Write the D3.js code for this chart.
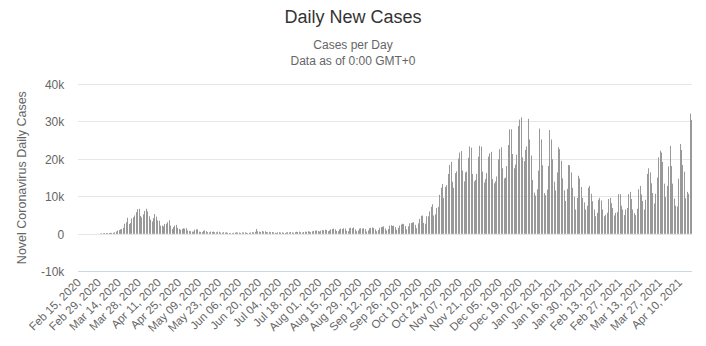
<!DOCTYPE html>
<html>
<head>
<meta charset="utf-8">
<script src="https://cdn.jsdelivr.net/npm/d3@7/dist/d3.min.js"></script>
<style>
  html, body { margin: 0; padding: 0; background: #ffffff; }
  svg { display: block; font-family: "Liberation Sans", Arial, sans-serif; }
</style>
</head>
<body>
<svg id="chart" width="706" height="346"></svg>
<script>
// Daily new cases, one value per day starting Feb 15, 2020
const startDate = "2020-02-15";
const dailyCases = [
  // Feb 15 – Mar 14, 2020
  0, 0, 0, 0, 0, 0, 0, 0, 0, 0, 2, 4, 10, 26, 14,
  120, 150, 180, 200, 220, 200, 230, 250, 260, 300, 400, 600, 900, 1000,
  // Mar 15 – Apr 30
  1200, 1300, 1600, 2700, 3100, 4300, 2600, 2900, 4100, 4400, 4900, 5800, 6600, 6700,
  4800, 4400, 5200, 6100, 6700, 6000, 4700, 3800, 3300, 4200, 5300, 4600, 3600, 3500,
  2200, 2200, 2000, 2600, 2700, 3100, 3600, 2200, 1300, 1800, 2200, 2400, 1600, 1300,
  1100, 1300, 1500, 1400, 1500,
  // May – early June
  900, 800, 700, 600, 600, 1100, 1200, 1200, 600, 500, 450, 800, 900, 700,
  450, 400, 600, 550, 600, 450, 400, 600, 550, 350, 300, 450, 350, 400,
  300, 200, 250, 200, 300, 350, 400, 350, 350, 250,
  // June – August
  400, 350, 400, 300, 200, 300, 350, 450, 400, 550, 1300, 700, 600, 500,
  800, 600, 700, 500, 400, 550, 450, 500, 400, 300, 250, 400, 450, 350,
  400, 300, 250, 350, 450, 400, 500, 400, 300, 450, 550, 500, 600, 450,
  350, 500, 600, 550, 700, 600, 450, 650, 800, 850, 900, 750, 600, 850,
  1000, 950, 1100, 1000, 700, 900, 1200, 1300, 1400, 1200, 800, 700, 1200, 1400,
  1300, 1500, 1400, 800, 700, 1500, 1600, 1500, 1700, 1200, 700, 900, 1400, 1500,
  // September – mid October
  1400, 1500, 1300, 600, 900, 1500, 1600, 1700, 1600, 1200, 700, 1000, 1600, 1800,
  1900, 2000, 1400, 900, 1300, 2200, 2300, 2100, 2200, 1800, 1100, 1600, 2200, 2500,
  2700, 2600, 2100, 1200, 2000, 2800, 2900, 3000, 3100, 2400, 1500, 2800, 4000, 4800,
  // mid October – December
  4900, 2900, 2700, 4700, 4700, 6000, 7200, 7900, 4900, 5200, 6900, 7200, 10400, 12300,
  13300, 9600, 12500, 13000, 16000, 18400, 19200, 13900, 12300, 16200, 16700, 20100, 21700, 22100,
  16900, 14000, 16400, 16600, 20300, 23300, 23000, 16000, 14000, 14400, 16000, 20600, 23500, 23300,
  16600, 13700, 14600, 16200, 20600, 21500, 21900, 14600, 13500, 14000, 15300, 19900, 22600, 23100,
  17500, 14800, 15000, 18100, 23700, 27900, 27900, 21300, 17500, 18500, 21100, 28800, 30500, 31100,
  20400, 19400, 22400, 23300, 30700, 25200, 20900, 14400, 11000, 10200, 11900, 16900, 28100, 25200,
  // late December – February
  18300, 10900, 10300, 11800, 18100, 27700, 25200, 19900, 13900, 11600, 16400, 23100, 22600, 19500,
  14800, 11600, 8800, 12000, 18400, 18300, 16400, 12300, 9900, 6500, 9600, 15500, 14800, 12500,
  9600, 8400, 6500, 7500, 12300, 12800, 10700, 8700, 6500, 4700, 5600, 9100, 9600, 8900,
  6500, 4700, 5100, 5600, 9300, 9600, 8200, 6900, 4900, 5600, 5800, 10600, 10600, 7500,
  // March – April 18, 2021
  6500, 5000, 6500, 6900, 10600, 11200, 9300, 6500, 5500, 5000, 6700, 11900, 12800, 10500,
  8800, 6500, 9100, 16000, 17500, 16400, 13500, 10900, 8100, 10700, 15000, 20400, 22200, 21700,
  19200, 13400, 9800, 12800, 18000, 23500, 18100, 13400, 9400, 7500, 7300, 14700, 24000, 22400,
  18400, 16600, 9500, 11200, 10700, 32100, 30400
];
const yTicks = [-10000, 0, 10000, 20000, 30000, 40000];
const yTickLabels = ["-10k", "0", "10k", "20k", "30k", "40k"];
const labelStep = 14;

const titleText = "Daily New Cases";
const subtitleLines = ["Cases per Day", "Data as of 0:00 GMT+0"];
const yTitleText = "Novel Coronavirus Daily Cases";

// Build category labels from the start date
const parse = d3.utcParse("%Y-%m-%d");
const fmt = d3.utcFormat("%b %d, %Y");
const t0 = parse(startDate);
const dates = dailyCases.map((_, i) => d3.utcDay.offset(t0, i));
const categories = dates.map(d => fmt(d));

const svg = d3.select("#chart");
const plot = { left: 78.3, right: 692.3, top: 84, bottom: 271.3 };

const x = d3.scaleBand()
  .domain(categories)
  .range([plot.left, plot.right])
  .padding(0);

const y = d3.scaleLinear()
  .domain([-10000, 40000])
  .range([plot.bottom, plot.top]);

// Title and subtitle
svg.append("text")
  .attr("x", 353).attr("y", 23)
  .attr("text-anchor", "middle")
  .attr("fill", "#333333")
  .attr("font-size", 18)
  .text(titleText);

svg.selectAll("text.sub")
  .data(subtitleLines)
  .join("text")
  .attr("class", "sub")
  .attr("x", 353)
  .attr("y", (d, i) => 49 + i * 16)
  .attr("text-anchor", "middle")
  .attr("fill", "#666666")
  .attr("font-size", 12)
  .text(d => d);

// Horizontal grid lines
const yAxis = d3.axisLeft(y)
  .tickValues(yTicks)
  .tickFormat((d, i) => yTickLabels[i])
  .tickSize(-(plot.right - plot.left))
  .tickPadding(14);

const gy = svg.append("g")
  .attr("transform", `translate(${plot.left},0)`)
  .call(yAxis);
gy.select(".domain").remove();
gy.selectAll(".tick line")
  .attr("stroke", d => d === -10000 ? "#ccd6eb" : "#e6e6e6")
  .attr("stroke-width", 1)
  .attr("shape-rendering", "crispEdges");
gy.selectAll(".tick text")
  .attr("fill", "#666666")
  .attr("font-size", 12)
  .attr("font-family", "Liberation Sans, Arial, sans-serif")
  .attr("dy", "0.35em");

// Y axis title
svg.append("text")
  .attr("transform", `translate(26,${(plot.top + plot.bottom) / 2}) rotate(-90)`)
  .attr("text-anchor", "middle")
  .attr("fill", "#666666")
  .attr("font-size", 12.5)
  .text(yTitleText);

// Bars
const bw = x.bandwidth();
svg.append("g")
  .selectAll("rect")
  .data(dailyCases)
  .join("rect")
  .attr("x", (d, i) => Math.round(x(categories[i]) + bw / 2 - 0.5))
  .attr("y", d => y(Math.max(d, 0)))
  .attr("width", 1)
  .attr("height", d => Math.abs(y(0) - y(d)))
  .attr("fill", "#999999");

// X axis labels, every 14 days, rotated
const xAxis = d3.axisBottom(x)
  .tickValues(categories.filter((_, i) => i % labelStep === 0))
  .tickSize(0)
  .tickPadding(0);

const gx = svg.append("g")
  .attr("transform", `translate(0,${plot.bottom})`)
  .call(xAxis);
gx.select(".domain").remove();
gx.selectAll(".tick text")
  .attr("fill", "#666666")
  .attr("font-size", 11.5)
  .attr("font-family", "Liberation Sans, Arial, sans-serif")
  .attr("text-anchor", "end")
  .attr("transform", `translate(${bw / 2 + 2},12) rotate(-45)`)
  .attr("x", 0).attr("y", 0).attr("dy", 0);
</script>
</body>
</html>
